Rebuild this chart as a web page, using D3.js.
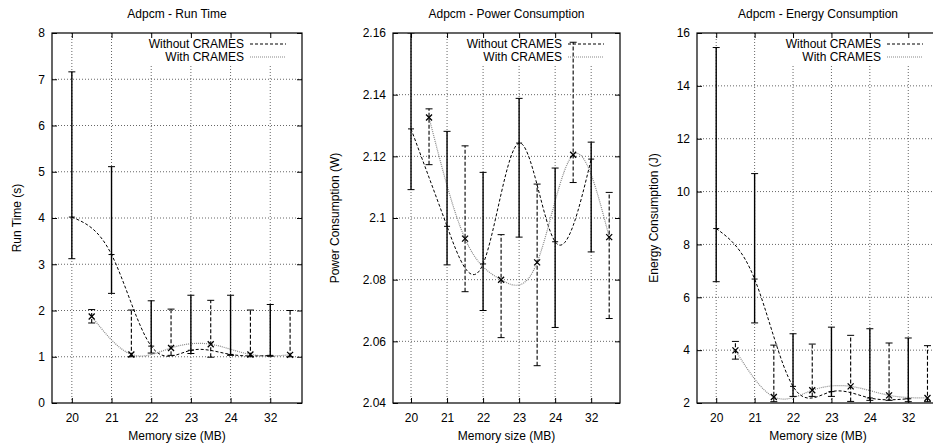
<!DOCTYPE html>
<html>
<head>
<meta charset="utf-8">
<title>Adpcm - CRAMES</title>
<script src="https://cdn.jsdelivr.net/npm/d3@7"></script>
<style>
  body { margin: 0; background: #fff; }
  text { font-family: "Liberation Sans", Arial, Helvetica, sans-serif; font-size: 12px; fill: #000; }
</style>
</head>
<body>
<svg width="933" height="446" id="mainsvg"></svg>
<script>
// categories (memory size, MB)
const memSizes = ['20', '21', '22', '23', '24', '32'];

// Run time (s)
const runWithoutMean = [4.02, 3.21, 1.23, 1.14, 1.05, 1.03];
const runWithoutLow  = [3.12, 2.37, 1.08, 1.07, 1.03, 1.01];
const runWithoutHigh = [7.16, 5.11, 2.21, 2.33, 2.33, 2.13];
const runWithMean = [1.87, 1.05, 1.19, 1.27, 1.05, 1.04];
const runWithLow  = [1.73, 1.00, 1.03, 0.99, 1.00, 1.00];
const runWithHigh = [2.02, 2.01, 2.03, 2.22, 2.01, 2.00];

// Power consumption (W)
const powWithoutMean = [2.1289, 2.0973, 2.0851, 2.1243, 2.0923, 2.1191];
const powWithoutLow  = [2.1092, 2.0848, 2.0700, 2.0938, 2.0645, 2.0890];
const powWithoutHigh = [2.1600, 2.1281, 2.1148, 2.1388, 2.1162, 2.1246];
const powWithMean = [2.1326, 2.0933, 2.0800, 2.0856, 2.1205, 2.0938];
const powWithLow  = [2.1173, 2.0761, 2.0612, 2.0521, 2.1115, 2.0674];
const powWithHigh = [2.1354, 2.1234, 2.0946, 2.1110, 2.1570, 2.1083];

// Energy consumption (J)
const enWithoutMean = [8.60, 6.69, 2.63, 2.43, 2.19, 2.16];
const enWithoutLow  = [6.59, 5.03, 2.25, 2.25, 2.10, 2.05];
const enWithoutHigh = [15.45, 10.68, 4.62, 4.87, 4.81, 4.46];
const enWithMean = [3.99, 2.23, 2.48, 2.63, 2.29, 2.19];
const enWithLow  = [3.66, 2.05, 2.25, 2.06, 2.10, 2.05];
const enWithHigh = [4.33, 4.19, 4.23, 4.56, 4.27, 4.17];

const runTicks = [0, 1, 2, 3, 4, 5, 6, 7, 8];
const powTicks = [2.04, 2.06, 2.08, 2.10, 2.12, 2.14, 2.16];
const enTicks = [2, 4, 6, 8, 10, 12, 14, 16];

const seriesNames = ['Without CRAMES', 'With CRAMES'];

function makeSeries(mean, low, high, offset) {
  return mean.map((m, i) => ({pos: i + offset, mean: m, low: low[i], high: high[i]}));
}

const panels = [
  {title: 'Adpcm - Run Time', ylabel: 'Run Time (s)', left: 52, right: 302, labelX: 17,
   ticks: runTicks, fmt: d => d,
   without: makeSeries(runWithoutMean, runWithoutLow, runWithoutHigh, 0),
   withC: makeSeries(runWithMean, runWithLow, runWithHigh, 0.5)},
  {title: 'Adpcm - Power Consumption', ylabel: 'Power Consumption (W)', left: 393, right: 620, labelX: 335,
   ticks: powTicks, fmt: d => String(+d.toFixed(2)),
   without: makeSeries(powWithoutMean, powWithoutLow, powWithoutHigh, 0),
   withC: makeSeries(powWithMean, powWithLow, powWithHigh, 0.5)},
  {title: 'Adpcm - Energy Consumption', ylabel: 'Energy Consumption (J)', left: 697, right: 939, labelX: 654,
   ticks: enTicks, fmt: d => d,
   without: makeSeries(enWithoutMean, enWithoutLow, enWithoutHigh, 0),
   withC: makeSeries(enWithMean, enWithLow, enWithHigh, 0.5)}
];

const svg = d3.select('#mainsvg');
const plotTop = 33, plotBottom = 403;

panels.forEach((p, k) => {
  const xScale = d3.scaleLinear().domain([-0.5, 5.8]).range([p.left, p.right]);
  const yScale = d3.scaleLinear().domain([p.ticks[0], p.ticks[p.ticks.length - 1]]).range([plotBottom, plotTop]);
  const g = svg.append('g');

  g.append('clipPath').attr('id', 'clip' + k)
    .append('rect').attr('x', p.left).attr('y', plotTop)
    .attr('width', p.right - p.left).attr('height', plotBottom - plotTop);

  // grid
  const grid = g.append('g').attr('stroke', '#555').attr('stroke-width', 0.9).attr('stroke-dasharray', '1,2');
  p.ticks.slice(1, -1).forEach(t => {
    grid.append('line').attr('x1', p.left).attr('x2', p.right)
      .attr('y1', yScale(t)).attr('y2', yScale(t));
  });
  memSizes.forEach((m, i) => {
    grid.append('line').attr('x1', xScale(i)).attr('x2', xScale(i))
      .attr('y1', plotTop).attr('y2', plotBottom);
  });

  // key background hides the grid
  g.append('rect').attr('x', p.right - 160).attr('y', plotTop + 1)
    .attr('width', 159).attr('height', 30).attr('fill', '#fff');

  const plot = g.append('g').attr('clip-path', `url(#clip${k})`);
  const line = d3.line().x(d => xScale(d.pos)).y(d => yScale(d.mean)).curve(d3.curveNatural);

  plot.append('path').datum(p.without).attr('d', line)
    .attr('fill', 'none').attr('stroke', '#000').attr('stroke-width', 1).attr('stroke-dasharray', '3,2');
  plot.append('path').datum(p.withC).attr('d', line)
    .attr('fill', 'none').attr('stroke', '#888').attr('stroke-width', 1.2).attr('stroke-dasharray', '1,1');

  // error bars
  const cap = 3.5;
  function bars(data, width, dash) {
    const b = plot.append('g').attr('stroke', '#000').attr('stroke-width', width);
    data.forEach(d => {
      const x = xScale(d.pos);
      b.append('line').attr('x1', x).attr('x2', x)
        .attr('y1', yScale(d.low)).attr('y2', yScale(d.high)).attr('stroke-dasharray', dash);
      [d.low, d.high].forEach(v => {
        b.append('line').attr('x1', x - cap).attr('x2', x + cap)
          .attr('y1', yScale(v)).attr('y2', yScale(v)).attr('stroke-width', 1);
      });
    });
    return b;
  }
  const bw = bars(p.without, 1.4, null);
  p.without.forEach(d => {
    const x = xScale(d.pos), y = yScale(d.mean);
    bw.append('line').attr('x1', x - 3).attr('x2', x + 3).attr('y1', y).attr('y2', y).attr('stroke-width', 1);
  });
  const bc = bars(p.withC, 1.1, '4,2');
  p.withC.forEach(d => {
    const x = xScale(d.pos), y = yScale(d.mean);
    bc.append('path').attr('d', `M${x - 3},${y - 3}L${x + 3},${y + 3}M${x - 3},${y + 3}L${x + 3},${y - 3}`)
      .attr('stroke-width', 1.3);
  });

  // border and inward ticks
  g.append('rect').attr('x', p.left).attr('y', plotTop)
    .attr('width', p.right - p.left).attr('height', plotBottom - plotTop)
    .attr('fill', 'none').attr('stroke', '#000').attr('stroke-width', 1.2);

  const idx = memSizes.map((m, i) => i);
  const xAxis = d3.axisBottom(xScale).tickValues(idx).tickFormat(i => memSizes[i]).tickSize(-5).tickPadding(10);
  g.append('g').attr('transform', `translate(0, ${plotBottom})`).call(xAxis);
  g.append('g').attr('transform', `translate(0, ${plotTop})`)
    .call(d3.axisTop(xScale).tickValues(idx).tickFormat('').tickSize(-5));
  const yAxis = d3.axisLeft(yScale).tickValues(p.ticks).tickFormat(p.fmt).tickSize(-5).tickPadding(7);
  g.append('g').attr('transform', `translate(${p.left}, 0)`).call(yAxis);
  g.append('g').attr('transform', `translate(${p.right}, 0)`)
    .call(d3.axisRight(yScale).tickValues(p.ticks).tickFormat('').tickSize(-5));
  g.selectAll('.domain').remove();
  g.selectAll('.tick line').attr('stroke', '#000');
  g.selectAll('.tick text').attr('font-size', '12px')
    .attr('font-family', '"Liberation Sans", Arial, sans-serif').attr('fill', '#000');

  // labels
  g.append('text').text(p.title).attr('x', (p.left + p.right) / 2).attr('y', 18)
    .attr('text-anchor', 'middle');
  g.append('text').text('Memory size (MB)').attr('x', (p.left + p.right) / 2).attr('y', 440)
    .attr('text-anchor', 'middle');
  g.append('text').text(p.ylabel)
    .attr('transform', `translate(${p.labelX}, ${(plotTop + plotBottom) / 2}) rotate(-90)`)
    .attr('text-anchor', 'middle').attr('dy', '0.35em');

  // key
  const key = g.append('g');
  seriesNames.forEach((name, j) => {
    const ky = plotTop + 11 + j * 13;
    key.append('text').text(name).attr('x', p.right - 58).attr('y', ky)
      .attr('text-anchor', 'end').attr('dy', '0.35em');
    key.append('line').attr('x1', p.right - 52).attr('x2', p.right - 16)
      .attr('y1', ky).attr('y2', ky)
      .attr('stroke', j === 0 ? '#000' : '#888')
      .attr('stroke-width', j === 0 ? 1 : 1.2)
      .attr('stroke-dasharray', j === 0 ? '3,2' : '1,1');
  });
});
</script>
</body>
</html>
